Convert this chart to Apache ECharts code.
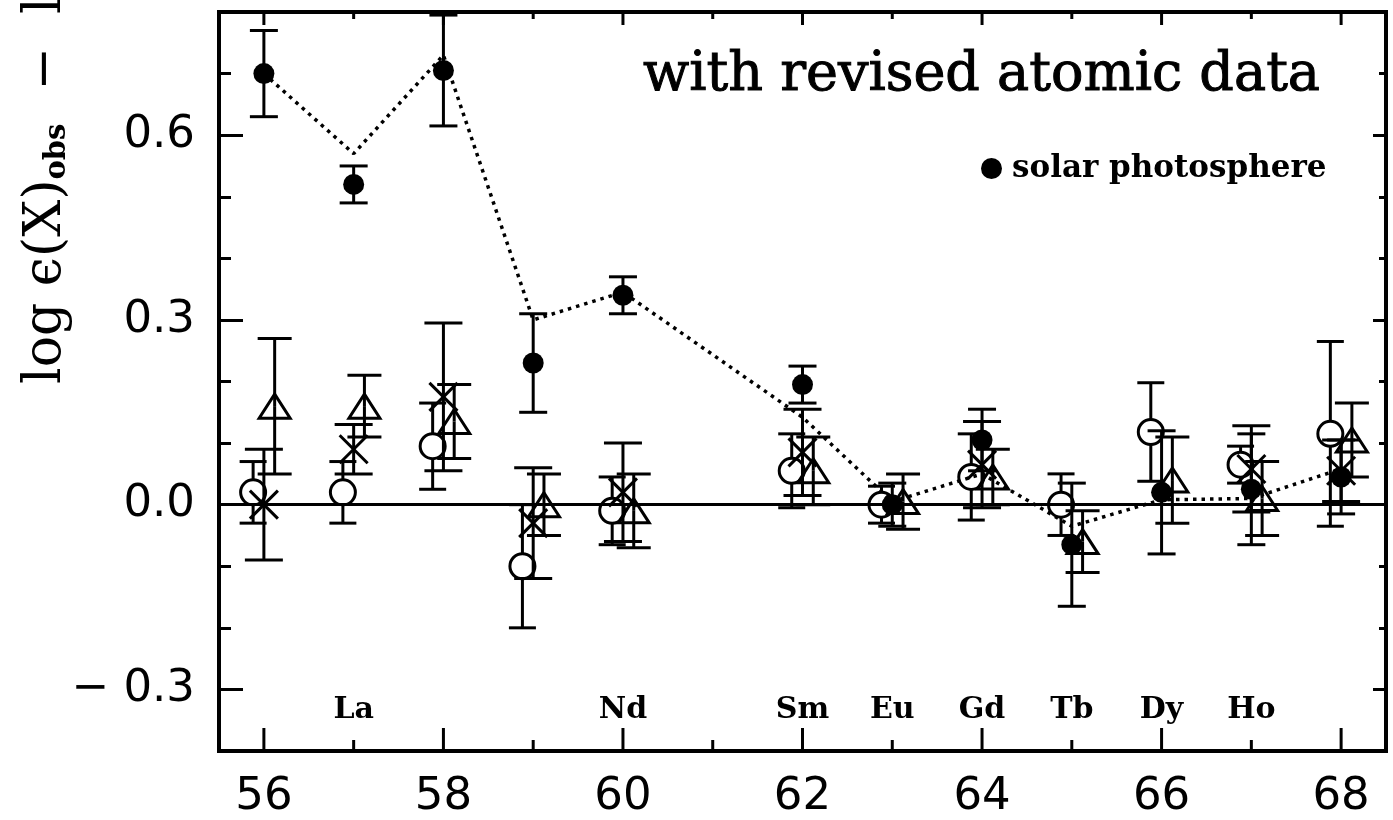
<!DOCTYPE html>
<html>
<head>
<meta charset="utf-8">
<title>log eps(X) with revised atomic data</title>
<script src="https://cdn.jsdelivr.net/npm/echarts@6.0.0/dist/echarts.min.js"></script>
<style>
  html, body { margin: 0; padding: 0; background: #fff; }
  #chart { width: 1393px; height: 820px; }
</style>
</head>
<body>
<div id="chart"></div>
<script>
// tick positions
const majorX = [56, 58, 60, 62, 64, 66, 68]
const minorX = [57, 59, 61, 63, 65, 67]
const majorY = [-0.3, 0, 0.3, 0.6]
const minorY = [-0.2, -0.1, 0.1, 0.2, 0.4, 0.5, 0.7]

// element labels along the bottom
const elemNames = ['La', 'Nd', 'Sm', 'Eu', 'Gd', 'Tb', 'Dy', 'Ho']
const elemZ = [57, 60, 62, 63, 64, 65, 66, 67]

// open circles
const circZ = [56, 57, 58, 59, 60, 62, 63, 64, 65, 66, 67, 68]
const circY = [0.02, 0.02, 0.095, -0.10, -0.01, 0.055, 0.0, 0.045, 0.0, 0.118, 0.065, 0.115]
const circE = [0.05, 0.05, 0.07, 0.10, 0.055, 0.06, 0.03, 0.07, 0.05, 0.08, 0.03, 0.15]

// crosses
const crossZ = [56, 57, 58, 59, 60, 62, 64, 67, 68]
const crossY = [0.0, 0.09, 0.175, -0.03, 0.02, 0.085, 0.065, 0.058, 0.055]
const crossE = [0.09, 0.04, 0.12, 0.09, 0.08, 0.07, 0.07, 0.07, 0.05]

// open triangles
const triZ = [56, 57, 58, 59, 60, 62, 63, 64, 65, 66, 67, 68]
const triY = [0.16, 0.16, 0.135, 0.0, -0.01, 0.055, 0.005, 0.045, -0.06, 0.04, 0.01, 0.105]
const triE = [0.11, 0.05, 0.06, 0.05, 0.06, 0.055, 0.045, 0.045, 0.05, 0.07, 0.06, 0.06]

// solar photosphere (filled circles)
const solarZ = [56, 57, 58, 59, 60, 62, 63, 64, 65, 66, 67, 68]
const solarY = [0.70, 0.52, 0.705, 0.23, 0.34, 0.195, 0.0, 0.105, -0.065, 0.02, 0.025, 0.045]
const solarE = [0.07, 0.03, 0.09, 0.08, 0.03, 0.03, 0.035, 0.05, 0.10, 0.10, 0.09, 0.06]

// dotted curve
const dotZ = [56, 57, 58, 59, 60, 62, 63, 64, 65, 66, 67, 68]
const dotY = [0.70, 0.57, 0.73, 0.30, 0.345, 0.142, 0.005, 0.05, -0.035, 0.008, 0.01, 0.058]

const BLACK = '#000'
const LW = 3
const X_MIN = 55.5
const X_MAX = 68.5
const Y_MIN = -0.4
const Y_MAX = 0.8

function errSeries(name, zs, ys, es, shape, dx, cap) {
  return {
    name: name,
    type: 'custom',
    clip: false,
    itemStyle: { color: BLACK },
    data: zs.map((z, i) => [z, ys[i], es[i]]),
    encode: { x: 0, y: 1 },
    renderItem(params, api) {
      const z = api.value(0) + dx
      const v = api.value(1)
      const e = api.value(2)
      const c = api.coord([z, v])
      const t = api.coord([z, v + e])
      const b = api.coord([z, v - e])
      const gap = shape === 'circle' ? 12.5 : 0
      const st = { stroke: BLACK, lineWidth: LW }
      const kids = []
      if (t[1] < c[1] - gap) kids.push({ type: 'line', shape: { x1: c[0], y1: t[1], x2: c[0], y2: c[1] - gap }, style: st })
      if (b[1] > c[1] + gap) kids.push({ type: 'line', shape: { x1: c[0], y1: c[1] + gap, x2: c[0], y2: b[1] }, style: st })
      kids.push({ type: 'line', shape: { x1: c[0] - cap, y1: t[1], x2: c[0] + cap, y2: t[1] }, style: st })
      kids.push({ type: 'line', shape: { x1: c[0] - cap, y1: b[1], x2: c[0] + cap, y2: b[1] }, style: st })
      if (shape === 'circle') {
        kids.push({ type: 'circle', shape: { cx: c[0], cy: c[1], r: 12.5 }, style: { fill: 'none', stroke: BLACK, lineWidth: LW } })
      } else if (shape === 'filled') {
        kids.push({ type: 'circle', shape: { cx: c[0], cy: c[1], r: 10.5 }, style: { fill: BLACK } })
      } else if (shape === 'triangle') {
        kids.push({
          type: 'polygon',
          shape: { points: [[c[0], c[1] - 12], [c[0] - 15.5, c[1] + 12], [c[0] + 15.5, c[1] + 12]] },
          style: { fill: 'none', stroke: BLACK, lineWidth: LW },
        })
      } else {
        kids.push({ type: 'line', shape: { x1: c[0] - 14, y1: c[1] - 14, x2: c[0] + 14, y2: c[1] + 14 }, style: st })
        kids.push({ type: 'line', shape: { x1: c[0] - 14, y1: c[1] + 14, x2: c[0] + 14, y2: c[1] - 14 }, style: st })
      }
      return { type: 'group', children: kids }
    },
  }
}

// x-axis tick marks (bottom and top frame, pointing inward)
function xTickSeries(values, lenBottom, lenTop) {
  return {
    type: 'custom',
    silent: true,
    clip: false,
    data: values.map((z) => [z, 0]),
    encode: { x: 0, y: 1 },
    renderItem(params, api) {
      const z = api.value(0)
      const b = api.coord([z, Y_MIN])
      const t = api.coord([z, Y_MAX])
      const st = { stroke: BLACK, lineWidth: LW }
      return {
        type: 'group',
        children: [
          { type: 'line', shape: { x1: b[0], y1: b[1], x2: b[0], y2: b[1] - lenBottom }, style: st },
          { type: 'line', shape: { x1: t[0], y1: t[1], x2: t[0], y2: t[1] + lenTop }, style: st },
        ],
      }
    },
  }
}

function yAx(pos, values, len, labels) {
  return {
    type: 'value', position: pos, min: Y_MIN, max: Y_MAX,
    axisLine: { show: false, onZero: false }, splitLine: { show: false },
    axisTick: { show: true, inside: true, length: len, customValues: values, lineStyle: { color: BLACK, width: LW } },
    axisLabel: labels
      ? {
          show: true, customValues: values, margin: 24, color: BLACK, fontFamily: 'DejaVu Sans', fontSize: 45,
          formatter: (v) => (v < 0 ? '\u2212 ' + Math.abs(v).toFixed(1) : Math.abs(v).toFixed(1)),
        }
      : { show: false },
  }
}

const chart = echarts.init(document.getElementById('chart'))
chart.setOption({
  animation: false,
  backgroundColor: '#fff',
  grid: {
    left: 219, right: 7, top: 12, bottom: 69,
    show: true, borderColor: BLACK, borderWidth: 4, backgroundColor: 'transparent',
    outerBoundsMode: 'none',
  },
  title: {
    text: 'with revised atomic data',
    left: 638, top: 44,
    textStyle: { fontFamily: 'DejaVu Serif', fontSize: 54, fontWeight: 'normal', color: BLACK, textBorderColor: BLACK, textBorderWidth: 1 },
  },
  legend: {
    data: [{ name: 'solar photosphere', icon: 'circle' }],
    left: 976, top: 148,
    itemWidth: 21, itemHeight: 21,
    selectedMode: false,
    textStyle: { fontFamily: 'DejaVu Serif', fontWeight: 'bold', fontSize: 31, color: BLACK, padding: [0, 0, 0, 5] },
  },
  graphic: [{
    type: 'text',
    x: 41, y: 384,
    rotation: Math.PI / 2,
    style: {
      text: '{a|log \u03F5(X)}{b|obs}{a|  \u2212  log \u03F5(X)}',
      textAlign: 'left',
      textVerticalAlign: 'middle',
      rich: {
        a: { fontFamily: 'DejaVu Serif', fontSize: 52, lineHeight: 62, fill: BLACK, verticalAlign: 'bottom' },
        b: { fontFamily: 'DejaVu Serif', fontSize: 29, fontWeight: 'bold', lineHeight: 30, fill: BLACK, verticalAlign: 'bottom' },
      },
    },
  }],
  xAxis: {
    type: 'value', position: 'bottom', min: X_MIN, max: X_MAX,
    axisLine: { show: false, onZero: false }, splitLine: { show: false },
    axisTick: { show: false },
    axisLabel: { show: true, customValues: majorX, margin: 24, color: BLACK, fontFamily: 'DejaVu Sans', fontSize: 45 },
  },
  yAxis: [
    yAx('left', majorY, 24, true),
    yAx('left', minorY, 12, false),
    yAx('right', majorY, 13, false),
    yAx('right', minorY, 7, false),
  ],
  series: [
    xTickSeries(majorX, 23, 13),
    xTickSeries(minorX, 11, 7),
    {
      name: 'dotted',
      type: 'line',
      data: dotZ.map((z, i) => [z, dotY[i]]),
      symbol: 'none',
      lineStyle: { color: BLACK, width: 3.5, type: [3.5, 5] },
      markLine: {
        silent: true,
        symbol: ['none', 'none'],
        label: { show: false },
        lineStyle: { color: BLACK, width: 3, type: 'solid' },
        data: [{ yAxis: 0 }],
      },
    },
    {
      name: 'elements',
      type: 'scatter',
      symbolSize: 0,
      silent: true,
      itemStyle: { opacity: 1 },
      data: elemZ.map((z, i) => ({ value: [z, -0.333], name: elemNames[i] })),
      label: {
        show: true, position: 'inside', formatter: '{b}',
        fontFamily: 'DejaVu Serif', fontWeight: 'bold', fontSize: 30, color: BLACK,
        textBorderWidth: 0, opacity: 1,
      },
    },
    errSeries('open circles', circZ, circY, circE, 'circle', -0.12, 13.5),
    errSeries('crosses', crossZ, crossY, crossE, 'cross', 0, 19),
    errSeries('triangles', triZ, triY, triE, 'triangle', 0.12, 17),
    errSeries('solar photosphere', solarZ, solarY, solarE, 'filled', 0, 14),
  ],
})
</script>
</body>
</html>
